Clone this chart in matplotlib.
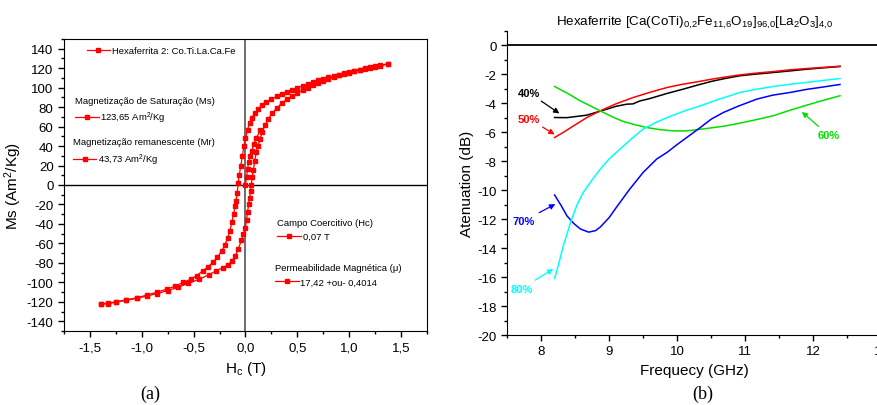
import matplotlib
matplotlib.use('Agg')
import matplotlib.pyplot as plt
from matplotlib.lines import Line2D
from matplotlib.legend import Legend
from matplotlib.ticker import MultipleLocator, FuncFormatter

plt.rcParams['font.family'] = ['Liberation Sans', 'DejaVu Sans']
plt.rcParams['mathtext.fontset'] = 'custom'
plt.rcParams['mathtext.rm'] = 'Liberation Sans'
plt.rcParams['mathtext.it'] = 'Liberation Sans:italic'
plt.rcParams['mathtext.bf'] = 'Liberation Sans:bold'
plt.rcParams['mathtext.default'] = 'regular'
plt.rcParams['axes.unicode_minus'] = False

# --- (a) hysteresis loop ---
h_down = [1.37, 1.30, 1.25, 1.20, 1.15, 1.10, 1.05, 1.00, 0.95, 0.90, 0.85, 0.80,
          0.75, 0.70, 0.65, 0.60, 0.55, 0.50, 0.45, 0.40, 0.35, 0.30, 0.25, 0.20,
          0.16, 0.12, 0.09, 0.06, 0.04, 0.02, 0.0, -0.015, -0.03, -0.045, -0.06,
          -0.07, -0.08, -0.09, -0.10, -0.115, -0.13, -0.15, -0.17, -0.20, -0.23,
          -0.27, -0.31, -0.36, -0.41, -0.47, -0.53, -0.60, -0.68, -0.76, -0.85,
          -0.95, -1.05, -1.15, -1.25, -1.33, -1.39]
m_down = [124.5, 123, 122, 121, 120, 118.5, 117.5, 116, 115, 113.5, 112, 110.5,
          109, 107.5, 106, 104, 102, 100, 98, 96, 93.5, 91, 88, 85,
          82, 78, 74, 69, 64, 57, 48, 40, 30, 20, 10,
          2, -8, -16, -22, -30, -38, -47, -54, -62, -68,
          -74, -79, -84, -88, -93, -97, -100, -104, -107, -110,
          -113, -116, -118, -120, -121.5, -122]

h_up = [-1.39, -1.33, -1.25, -1.15, -1.05, -0.95, -0.85, -0.75, -0.65, -0.55,
        -0.45, -0.35, -0.28, -0.22, -0.17, -0.13, -0.10, -0.07, -0.04, -0.02,
        0.0, 0.01, 0.02, 0.03, 0.04, 0.05, 0.055, 0.065, 0.075, 0.09, 0.105,
        0.12, 0.14, 0.16, 0.19, 0.22, 0.26, 0.30, 0.35, 0.40, 0.45, 0.50, 0.55,
        0.60, 0.65, 0.70, 0.75, 0.80, 0.85, 0.90, 0.95, 1.00, 1.05, 1.10, 1.15,
        1.20, 1.25, 1.30, 1.37]
m_up = [-122.5, -122, -120.5, -118.5, -116.5, -114, -111.5, -108.5, -105, -101,
        -97, -92, -88, -85, -82, -78, -73, -66, -57, -50,
        -44, -36, -28, -20, -13, -6, 0, 8, 15, 25, 34,
        40, 47, 54, 62, 68, 74, 79, 84, 88, 91, 94.5, 97.5,
        100, 102.5, 105, 107, 109, 111, 112.5, 114, 115.5, 117, 118, 119.5,
        120.5, 121.5, 122.5, 124]

h_virgin = [0.0, 0.01, 0.02, 0.03, 0.045, 0.06, 0.08, 0.105, 0.14]
m_virgin = [0, 8, 16, 24, 30, 35, 42, 48, 56]

# --- (b) attenuation curves ---
f40 = [8.2, 8.38, 8.55, 8.67, 8.82, 8.97, 9.1, 9.26, 9.35, 9.45, 9.6, 9.85, 10.09,
       10.3, 10.5, 10.7, 10.92, 11.1, 11.31, 11.6, 11.9, 12.15, 12.39]
a40 = [-4.99, -5.0, -4.9, -4.83, -4.62, -4.41, -4.22, -4.07, -4.05, -3.85, -3.68,
       -3.33, -3.03, -2.75, -2.5, -2.3, -2.11, -2.02, -1.93, -1.8, -1.66, -1.56, -1.47]
f50 = [8.2, 8.35, 8.48, 8.67, 8.87, 9.1, 9.36, 9.6, 9.85, 10.05, 10.29, 10.5, 10.7,
       10.92, 11.15, 11.41, 11.65, 11.9, 12.15, 12.39]
a50 = [-6.37, -5.95, -5.56, -5.0, -4.53, -4.05, -3.6, -3.25, -2.92, -2.72, -2.53,
       -2.35, -2.2, -2.05, -1.93, -1.82, -1.7, -1.61, -1.53, -1.45]
f60 = [8.2, 8.4, 8.58, 8.75, 8.87, 9.05, 9.2, 9.35, 9.55, 9.75, 9.94, 10.1, 10.24,
       10.43, 10.7, 10.92, 11.15, 11.41, 11.65, 11.9, 12.15, 12.39]
a60 = [-2.85, -3.35, -3.85, -4.25, -4.53, -4.95, -5.25, -5.45, -5.68, -5.83, -5.91,
       -5.92, -5.86, -5.75, -5.58, -5.38, -5.15, -4.87, -4.5, -4.14, -3.8, -3.49]
f70 = [8.2, 8.3, 8.38, 8.48, 8.58, 8.7, 8.8, 8.87, 9.0, 9.11, 9.3, 9.5, 9.7, 9.85,
       10.0, 10.14, 10.34, 10.5, 10.68, 10.9, 11.17, 11.4, 11.66, 11.9, 12.15, 12.39]
a70 = [-10.34, -11.1, -11.77, -12.3, -12.69, -12.9, -12.8, -12.55, -11.9, -11.17,
       -9.95, -8.78, -7.85, -7.4, -6.85, -6.37, -5.68, -5.1, -4.64, -4.2, -3.72,
       -3.45, -3.26, -3.05, -2.88, -2.71]
f80 = [8.2, 8.27, 8.33, 8.39, 8.45, 8.53, 8.62, 8.75, 8.87, 9.0, 9.16, 9.33, 9.5,
       9.67, 9.85, 10.1, 10.34, 10.6, 10.92, 11.15, 11.41, 11.65, 11.9, 12.15, 12.39]
a80 = [-16.1, -14.9, -13.8, -12.9, -12.0, -11.0, -10.16, -9.3, -8.55, -7.85, -7.17,
       -6.45, -5.79, -5.37, -5.0, -4.55, -4.18, -3.75, -3.26, -3.05, -2.85, -2.7,
       -2.57, -2.43, -2.3]

fig = plt.figure(figsize=(8.78, 4.06), dpi=100)

# ---------------- panel (a) ----------------
ax1 = fig.add_axes([0.0729, 0.1823, 0.4134, 0.7192])
red = '#ff0000'
mk = dict(color=red, marker='s', markersize=3.3, linewidth=0.9)
ax1.plot(h_virgin, m_virgin, **mk)
ax1.plot(h_down, m_down, **mk)
ax1.plot(h_up, m_up, **mk)
ax1.axhline(0, color='black', linewidth=1, zorder=0)
ax1.axvline(0, color='#555555', linewidth=1.2, zorder=0)
ax1.set_xlim(-1.75, 1.75)
ax1.set_ylim(-150, 150)
ax1.xaxis.set_major_locator(MultipleLocator(0.5))
ax1.xaxis.set_minor_locator(MultipleLocator(0.25))
ax1.yaxis.set_major_locator(MultipleLocator(20))
ax1.yaxis.set_minor_locator(MultipleLocator(10))
ax1.xaxis.set_major_formatter(FuncFormatter(lambda v, p: ('%.1f' % v).replace('.', ',')))
ax1.yaxis.set_major_formatter(FuncFormatter(lambda v, p: '%d' % v))
ax1.tick_params(which='both', direction='out', labelsize=9.5, width=1)
ax1.tick_params(which='major', length=4)
ax1.tick_params(which='minor', length=2.5)
ax1.set_xlabel('H$_c$ (T)', fontsize=11)
ax1.set_ylabel('Ms (Am$^2$/Kg)', fontsize=11, labelpad=2)


def key_legend(ax, label, title, anchor):
    h = Line2D([], [], color=red, marker='s', markersize=3.3, linewidth=0.9)
    lg = Legend(ax, [h], [label], title=title, loc='upper left', bbox_to_anchor=anchor,
                frameon=False, fontsize=6.8, title_fontsize=6.8, handlelength=2.5,
                handletextpad=0.2, borderpad=0, borderaxespad=0, labelspacing=0.55)
    lg._legend_box.align = 'left'
    ax.add_artist(lg)


key_legend(ax1, 'Hexaferrita 2: Co.Ti.La.Ca.Fe', None, (0.0625, 0.975))
key_legend(ax1, '123,65 Am$^2$/Kg', 'Magnetização de Saturação (Ms)', (0.030, 0.806))
key_legend(ax1, '43,73 Am$^2$/Kg', 'Magnetização remanescente (Mr)', (0.024, 0.663))
key_legend(ax1, '0,07 T', 'Campo Coercitivo (Hc)', (0.5876, 0.387))
key_legend(ax1, '17,42 +ou- 0,4014', 'Permeabilidade Magnética (μ)', (0.581, 0.232))

fig.text(0.171, 0.017, '(a)', fontsize=13, family='Liberation Serif', ha='center')

# ---------------- panel (b) ----------------
ax2 = fig.add_axes([0.5774, 0.1724, 0.4266, 0.7495])
ax2.plot(f40, a40, color='black', linewidth=1.1)
ax2.plot(f50, a50, color='#ff0000', linewidth=1.1)
ax2.plot(f60, a60, color='#00e000', linewidth=1.1)
ax2.plot(f70, a70, color='#0000ff', linewidth=1.1)
ax2.plot(f80, a80, color='#00ffff', linewidth=1.1)
ax2.axhline(0, color='black', linewidth=1.3, zorder=0)
ax2.set_xlim(7.5, 13)
ax2.set_ylim(-20, 1)
ax2.spines['top'].set_visible(False)
ax2.spines['right'].set_visible(False)
ax2.xaxis.set_major_locator(MultipleLocator(1))
ax2.xaxis.set_minor_locator(MultipleLocator(0.5))
ax2.yaxis.set_major_locator(MultipleLocator(2))
ax2.yaxis.set_minor_locator(MultipleLocator(1))
ax2.xaxis.set_major_formatter(FuncFormatter(lambda v, p: '%d' % v))
ax2.yaxis.set_major_formatter(FuncFormatter(lambda v, p: '%d' % v))
ax2.tick_params(which='both', direction='out', labelsize=9.5, width=1)
ax2.tick_params(which='major', length=4)
ax2.tick_params(which='minor', length=2.5)
ax2.set_xlabel('Frequecy (GHz)', fontsize=11)
ax2.set_ylabel('Atenuation (dB)', fontsize=11, labelpad=2)
ax2.set_title('Hexaferrite [Ca(CoTi)$_{0{,}2}$Fe$_{11{,}6}$O$_{19}$]$_{96{,}0}$'
              '[La$_2$O$_3$]$_{4{,}0}$', fontsize=9.6, pad=4)

notes = [('40%', 'black', (7.82, -3.27), (8.27, -4.71)),
         ('50%', '#ff0000', (7.82, -5.06), (8.2, -6.16)),
         ('60%', '#00e000', (12.22, -6.2), (11.83, -4.6)),
         ('70%', '#0000ff', (7.75, -12.11), (8.21, -10.97)),
         ('80%', '#00ffff', (7.71, -16.8), (8.18, -15.45))]
for txt, col, xyt, xy in notes:
    ax2.annotate(txt, xy=xy, xytext=xyt, color=col, fontsize=8, fontweight='bold',
                 ha='center', va='center',
                 arrowprops=dict(arrowstyle='-|>', color=col, lw=0.9,
                                 mutation_scale=8, shrinkA=1, shrinkB=0))

fig.text(0.80, 0.017, '(b)', fontsize=13, family='Liberation Serif', ha='center')

fig.savefig('out.png', dpi=100)
